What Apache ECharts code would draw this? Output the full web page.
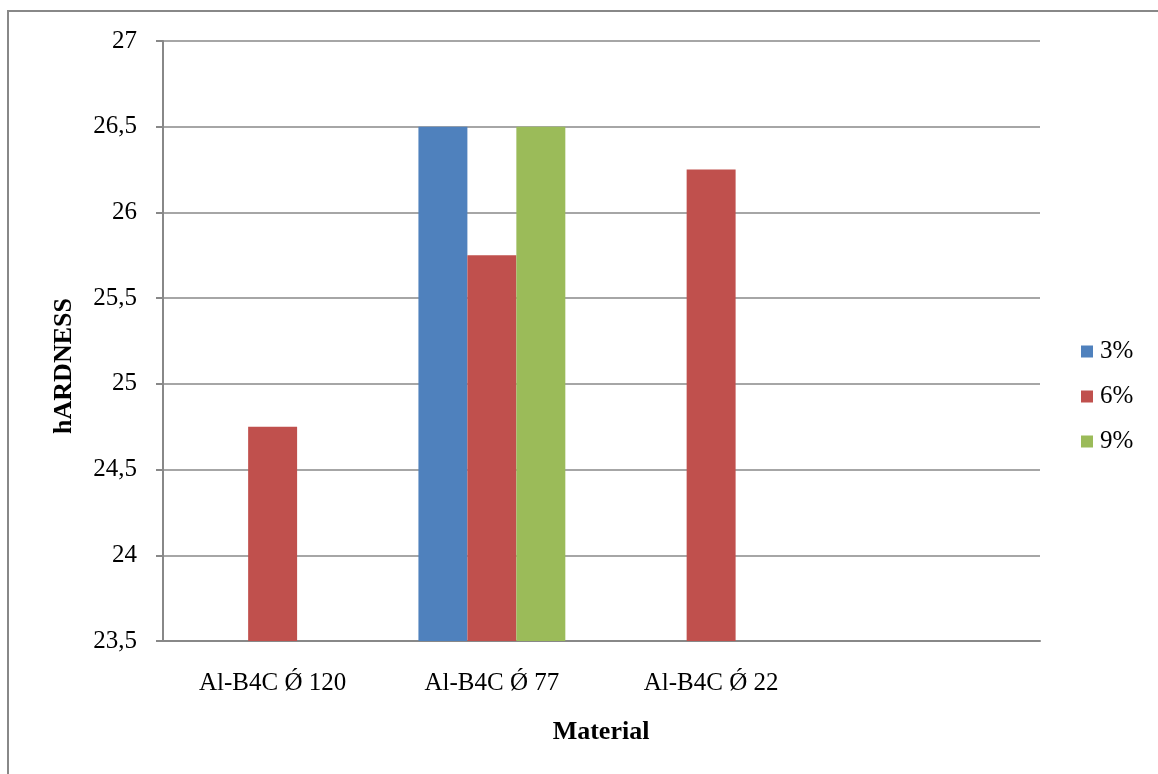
<!DOCTYPE html>
<html>
<head>
<meta charset="utf-8">
<script src="https://cdn.jsdelivr.net/npm/echarts@6/dist/echarts.min.js"></script>
<style>
  html, body { margin: 0; padding: 0; background: #fff; }
  #chart { width: 1158px; height: 774px; }
</style>
</head>
<body>
<div id="chart"></div>
<script>
// Hardness of Al-B4C samples by diameter and B4C content
const categories = ['Al-B4C Ǿ 120', 'Al-B4C Ǿ 77', 'Al-B4C Ǿ 22', ''];
const seriesNames = ['3%', '6%', '9%'];
const values3 = [null, 26.5, null, null];
const values6 = [24.75, 25.75, 26.25, null];
const values9 = [null, 26.5, null, null];
const yTicks = { min: 23.5, max: 27, interval: 0.5 };

const colors = ['#4F81BD', '#C0504D', '#9BBB59'];
const font = '"Liberation Serif", "Times New Roman", serif';

const chart = echarts.init(document.getElementById('chart'), null, { renderer: 'canvas' });

const fmt = v => String(v).replace('.', ',');

chart.setOption({
  animation: false,
  backgroundColor: '#fff',
  color: colors,
  grid: { left: 163, right: 118, top: 41, bottom: 133, containLabel: false },
  legend: {
    orient: 'vertical',
    left: 1081,
    top: 339,
    padding: 0,
    itemWidth: 12,
    itemHeight: 12,
    itemGap: 20,
    icon: 'rect',
    textStyle: { fontFamily: font, fontSize: 25, lineHeight: 25, color: '#000', padding: [0, 0, 0, 2] },
    data: seriesNames
  },
  xAxis: {
    type: 'category',
    data: categories,
    axisLine: { lineStyle: { color: '#888', width: 2 } },
    axisTick: { show: false },
    axisLabel: { fontFamily: font, fontSize: 25, color: '#000', margin: 30, interval: 0 }
  },
  yAxis: {
    type: 'value',
    min: yTicks.min,
    max: yTicks.max,
    interval: yTicks.interval,
    axisLine: { show: true, lineStyle: { color: '#888', width: 2 } },
    axisTick: { show: true, length: 7, lineStyle: { color: '#888', width: 2 } },
    splitLine: { lineStyle: { color: '#888', width: 1.5 } },
    axisLabel: { fontFamily: font, fontSize: 25, color: '#000', margin: 26, formatter: fmt }
  },
  graphic: [
    {
      type: 'rect',
      shape: { x: 8, y: 11, width: 1200, height: 800 },
      style: { fill: 'none', stroke: '#888', lineWidth: 2 },
      silent: true
    },
    {
      type: 'text',
      x: 601, y: 732,
      style: {
        text: 'Material',
        fontFamily: font, fontSize: 26, fontWeight: 'bold', fill: '#000',
        textAlign: 'center', textVerticalAlign: 'middle'
      }
    },
    {
      type: 'text',
      x: 64, y: 366,
      rotation: Math.PI / 2,
      style: {
        text: 'hARDNESS',
        fontFamily: font, fontSize: 26, fontWeight: 'bold', fill: '#000',
        textAlign: 'center', textVerticalAlign: 'middle'
      }
    }
  ],
  series: [
    { name: seriesNames[0], type: 'bar', data: values3, barCategoryGap: '33%', barGap: '0%' },
    { name: seriesNames[1], type: 'bar', data: values6, barCategoryGap: '33%', barGap: '0%' },
    { name: seriesNames[2], type: 'bar', data: values9, barCategoryGap: '33%', barGap: '0%' }
  ]
});
</script>
</body>
</html>
